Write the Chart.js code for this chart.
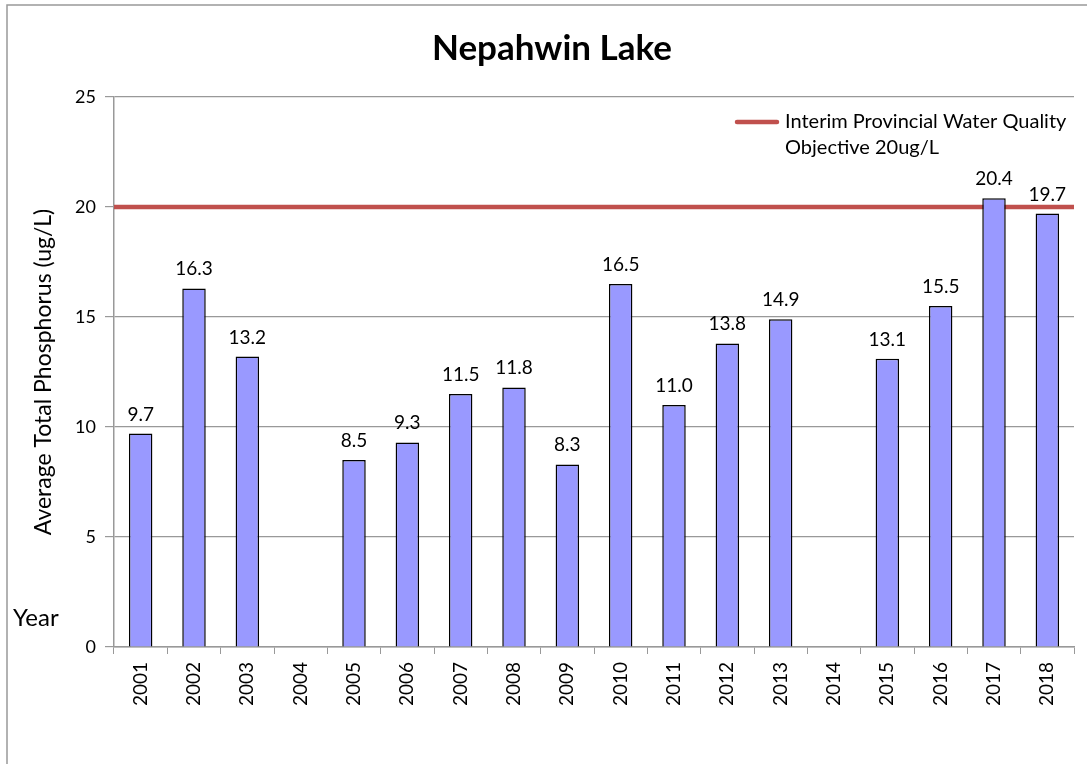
<!DOCTYPE html>
<html>
<head>
<meta charset="utf-8">
<script src="https://cdn.jsdelivr.net/npm/chart.js@4"></script>
<style>
  html, body { margin: 0; padding: 0; background: #fff; }
  #wrap { width: 1087px; height: 764px; position: relative; }
</style>
</head>
<body>
<div id="wrap"><canvas id="chart" width="1087" height="764"></canvas></div>
<script>
const years = ['2001', '2002', '2003', '2004', '2005', '2006', '2007', '2008', '2009',
               '2010', '2011', '2012', '2013', '2014', '2015', '2016', '2017', '2018'];
const phosphorus = [9.7, 16.3, 13.2, null, 8.5, 9.3, 11.5, 11.8, 8.3,
                    16.5, 11.0, 13.8, 14.9, null, 13.1, 15.5, 20.4, 19.7];
const objectiveValue = 20;
const objectiveLabel = ['Interim Provincial Water Quality', 'Objective 20ug/L'];
const yMin = 0, yMax = 25, yStep = 5;

const FONT = 'Lato, "Open Sans", sans-serif';
const RED = '#c0504d';

// frame, title, legend, value labels and the stray "Year" label
const extras = {
    id: 'extras',
    beforeDraw(chart) {
        const c = chart.ctx;
        c.save();
        c.fillStyle = '#fff';
        c.fillRect(0, 0, chart.width, chart.height);
        c.strokeStyle = '#999';
        c.lineWidth = 1.5;
        c.beginPath();
        c.moveTo(7, chart.height);
        c.lineTo(7, 5);
        c.lineTo(chart.width, 5);
        c.stroke();
        c.restore();
    },
    afterDraw(chart) {
        const c = chart.ctx;
        c.save();
        c.fillStyle = '#000';

        c.font = 'bold 35px ' + FONT;
        c.textAlign = 'center';
        c.textBaseline = 'alphabetic';
        c.fillText('Nepahwin Lake', 552, 60);

        // legend
        c.strokeStyle = RED;
        c.lineWidth = 4.5;
        c.lineCap = 'round';
        c.beginPath();
        c.moveTo(737, 122);
        c.lineTo(777, 122);
        c.stroke();
        c.font = '20px ' + FONT;
        c.textAlign = 'left';
        c.fillText(objectiveLabel[0], 785, 128);
        c.fillText(objectiveLabel[1], 785, 154);

        c.font = '24px ' + FONT;
        c.fillText('Year', 13, 626);

        // values above bars
        const meta = chart.getDatasetMeta(0);
        c.font = '19px ' + FONT;
        c.textAlign = 'center';
        meta.data.forEach((bar, i) => {
            const v = phosphorus[i];
            if (v === null) return;
            c.fillText(v.toFixed(1), bar.x, bar.y - 13);
        });
        c.restore();
    }
};

new Chart(document.getElementById('chart').getContext('2d'), {
    type: 'bar',
    data: {
        labels: years,
        datasets: [{
            label: 'Average Total Phosphorus',
            data: phosphorus,
            backgroundColor: '#9999ff',
            borderColor: '#000',
            borderWidth: 1.5,
            grouped: false,
            categoryPercentage: 1,
            barPercentage: 0.44
        }, {
            type: 'line',
            label: objectiveLabel.join(' '),
            xAxisID: 'x2',
            data: [{ x: 0, y: objectiveValue }, { x: 1, y: objectiveValue }],
            borderColor: RED,
            borderWidth: 4.5,
            pointRadius: 0,
            fill: false
        }]
    },
    options: {
        responsive: false,
        animation: false,
        layout: { padding: { left: 0, right: 13, top: 97, bottom: 0 } },
        plugins: {
            legend: { display: false },
            title: { display: false },
            tooltip: { enabled: false }
        },
        scales: {
            x: {
                grid: { display: true, drawOnChartArea: false, drawTicks: true, tickLength: 7, color: '#999', offset: true },
                border: { color: '#999', width: 1.5 },
                ticks: {
                    minRotation: 90, maxRotation: 90, padding: 8,
                    color: '#000', font: { family: FONT, size: 19 }
                },
                afterFit(scale) { scale.height = 117; }
            },
            x2: {
                type: 'linear', min: 0, max: 1, display: false,
                offset: false, grid: { offset: false }
            },
            y: {
                min: yMin, max: yMax,
                grid: { color: '#999', lineWidth: 1.2, tickLength: 9 },
                border: { color: '#999', width: 1.5 },
                ticks: {
                    stepSize: yStep, padding: 9, color: '#000',
                    font: { family: FONT, size: 18 }
                },
                title: {
                    display: true,
                    text: 'Average Total Phosphorus (ug/L)',
                    color: '#000',
                    font: { family: FONT, size: 23 },
                    padding: { top: 30, bottom: 0 }
                },
                afterFit(scale) { scale.width = 114; }
            }
        }
    },
    plugins: [extras]
});
</script>
</body>
</html>
